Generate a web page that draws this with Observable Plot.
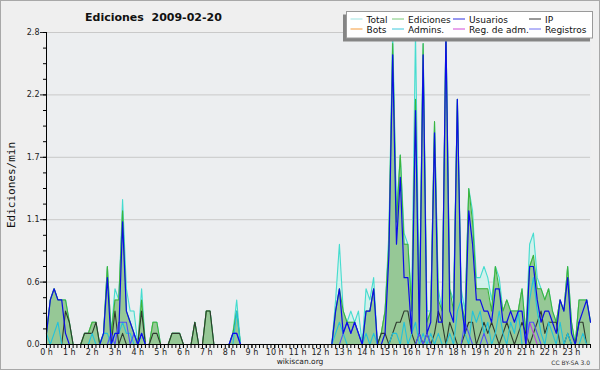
<!DOCTYPE html>
<html><head><meta charset="utf-8">
<script src="https://cdn.jsdelivr.net/npm/d3@7"></script>
<script src="https://cdn.jsdelivr.net/npm/@observablehq/plot@0.6"></script>
<style>
html,body{margin:0;padding:0;background:#efefef;}
#wrap{position:relative;width:600px;height:370px;overflow:hidden;background:#efefef;}
#chart{position:absolute;left:0;top:0;}
#ov{position:absolute;left:0;top:0;}
#border{position:absolute;left:0;top:0;width:600px;height:370px;box-sizing:border-box;border:1px solid #a8a8a8;pointer-events:none;}
</style></head><body>
<div id="wrap"><div id="chart"></div><svg id="ov" width="600" height="370"></svg><div id="border"></div></div>
<script>
// ---- data: edits per minute, 10-minute bins, 2009-02-20 ----
const title = "Ediciones  2009-02-20";
const yLabel = "Ediciones/min";
const yTicks = [0, 0.56, 1.12, 1.68, 2.24, 2.8];
const hourTicks = d3.range(0, 24);

const total = [
 0.1,0.4,0.5,0.4,0.4,0.4, 0.2,0,0,0,0.1,0.1, 0.2,0.2,0,0.1,0.7,0.1, 0.5,0.4,1.3,0.5,0.3,0.3,
 0,0.5,0,0,0.2,0.2, 0,0,0,0.1,0.1,0.1, 0,0,0,0.2,0,0, 0.3,0.3,0,0,0,0,
 0,0.1,0.4,0,0,0, 0,0,0,0,0,0, 0,0,0,0,0,0, 0,0,0,0,0,0,
 0,0,0,0,0.4,0.9, 0.3,0.2,0.3,0.2,0.3,0, 0.5,0.4,0.6,0,0.1,0.3, 1.0,2.8,1.2,1.7,1.0,0.9,
 0.4,2.8,0.3,2.7,0.3,0.3, 2.0,0.5,0.3,2.8,0.5,0.4, 2.2,0.5,0.3,1.4,1.2,0.6, 0.6,0.7,0.6,0.4,0.7,0.6,
 0.3,0.4,0.3,0.3,0.3,0.5, 0.1,0.9,1.0,0.6,0.5,0.4, 0.5,0.3,0.2,0.4,0.3,0.7, 0.2,0,0.4,0.4,0.4,0.2];
const ediciones = [
 0.1,0.4,0.5,0.4,0.4,0.4, 0.2,0,0,0,0.1,0.1, 0.2,0.2,0,0.1,0.7,0.1, 0.4,0.4,1.2,0.3,0.2,0.1,
 0,0.4,0,0,0.2,0.2, 0,0,0,0.1,0.1,0.1, 0,0,0,0.2,0,0, 0.3,0.3,0,0,0,0,
 0,0.1,0.3,0,0,0, 0,0,0,0,0,0, 0,0,0,0,0,0, 0,0,0,0,0,0,
 0,0,0,0,0.3,0.5, 0.3,0.2,0.2,0.2,0.1,0, 0.3,0.3,0.5,0,0.1,0.3, 0.9,2.7,1.1,1.7,0.9,0.9,
 0.3,2.2,0.2,2.7,0.2,0.3, 2.0,0.4,0.3,2.8,0.5,0.3, 2.2,0.4,0.2,1.4,1.1,0.5, 0.5,0.5,0.5,0.3,0.7,0.5,
 0.3,0.4,0.3,0.3,0.3,0.5, 0.1,0.7,0.8,0.5,0.5,0.4, 0.5,0.3,0.2,0.4,0.3,0.7, 0.2,0,0.4,0.4,0.4,0.2];
const usuarios = [
 0.1,0.4,0.5,0.4,0.4,0.1, 0,0,0,0,0,0, 0,0,0,0.1,0.6,0, 0.1,0.1,1.1,0.3,0.2,0.1,
 0,0.1,0,0,0,0, 0,0,0,0,0,0, 0,0,0,0,0,0, 0,0,0,0,0,0,
 0,0.1,0.1,0,0,0, 0,0,0,0,0,0, 0,0,0,0,0,0, 0,0,0,0,0,0,
 0,0,0,0,0.3,0.5, 0.1,0.2,0.1,0.2,0.1,0, 0.3,0.3,0.5,0,0,0.1, 0.8,2.6,0.9,1.5,0.6,0.6,
 0.1,2.1,0.1,2.6,0.1,0.2, 1.9,0.2,0.2,2.8,0.3,0.2, 2.2,0.4,0.1,1.2,0.9,0.4, 0.4,0.3,0.3,0.2,0.5,0.5,
 0.2,0.2,0.3,0.2,0.3,0.3, 0,0.7,0.7,0.4,0.2,0.3, 0.3,0.2,0.1,0.4,0.3,0.6, 0.1,0,0.2,0.3,0.4,0.2];
const ip = [
 0,0,0,0,0,0.3, 0.2,0,0,0,0.1,0.1, 0.1,0.2,0,0,0,0, 0.3,0,0.1,0,0,0,
 0,0.3,0,0,0.1,0.1, 0,0,0,0.1,0.1,0.1, 0,0,0,0.2,0,0, 0.3,0.3,0,0,0,0,
 0,0,0,0,0,0, 0,0,0,0,0,0, 0,0,0,0,0,0, 0,0,0,0,0,0,
 0,0,0,0,0,0, 0,0,0,0,0,0, 0,0,0,0,0.1,0.1, 0,0.1,0.2,0.2,0.3,0.3,
 0.1,0,0.1,0,0.1,0, 0.1,0.3,0.2,0,0.2,0.1, 0,0,0.1,0.2,0.2,0, 0.1,0.2,0.1,0.2,0.1,0,
 0.1,0.2,0.1,0,0.1,0.2, 0.1,0,0.1,0.2,0.3,0.1, 0.2,0.2,0.2,0,0,0.1, 0,0,0.2,0.2,0,0];
const bots = new Array(144).fill(0);
const admins = [
 0.1,0,0.1,0.2,0,0, 0,0,0,0,0,0, 0.1,0,0,0.1,0.1,0, 0.1,0.1,0.2,0.1,0.1,0,
 0,0.1,0,0,0,0, 0,0,0,0,0,0, 0,0,0,0,0,0, 0,0,0,0,0,0,
 0,0,0.3,0,0,0, 0,0,0,0,0,0, 0,0,0,0,0,0, 0,0,0,0,0,0,
 0,0,0,0,0.1,0.2, 0.1,0,0,0,0,0, 0.1,0,0.1,0,0,0, 0,0.1,0.1,0,0.2,0,
 0.1,0.2,0,0.1,0,0.1, 0,0.1,0,0,0.1,0, 0.3,0.4,0.1,0,0.3,0.2, 0.3,0.1,0.2,0,0.1,0.3,
 0.1,0,0.2,0.1,0.3,0, 0,0.4,0.6,0.3,0.1,0, 0.2,0.1,0,0.2,0,0.1, 0,0,0,0.1,0,0];
const regAdm = [
 0,0,0,0,0,0, 0,0,0,0,0,0, 0,0,0,0,0,0, 0,0,0,0,0,0,
 0,0,0,0,0,0, 0,0,0,0,0,0, 0,0,0,0,0,0, 0,0,0,0,0,0,
 0,0,0,0,0,0, 0,0,0,0,0,0, 0,0,0,0,0,0, 0,0,0,0,0,0,
 0,0,0,0,0,0, 0,0,0,0,0,0, 0,0,0,0,0,0, 0,0,0,0,0,0,
 0,0,0,0,0,0, 0,0,0,0,0,0, 0,0,0,0,0,0, 0,0,0,0,0,0,
 0,0,0,0,0,0, 0,0.2,0.1,0,0,0, 0,0,0,0,0,0, 0,0,0,0,0,0];
const registros = [
 0,0,0,0,0,0, 0,0,0,0,0,0, 0,0,0,0,0,0.1, 0,0.2,0.2,0.2,0,0.1,
 0,0.1,0,0,0,0, 0,0,0,0,0,0, 0,0,0,0,0,0, 0,0,0,0,0,0,
 0,0.1,0.1,0,0,0, 0,0,0,0,0,0, 0,0,0,0,0,0, 0,0,0,0,0,0,
 0,0,0,0,0,0, 0.1,0.2,0.1,0.2,0.1,0, 0,0,0,0,0,0, 0,0,0,0,0,0,
 0,0,0.1,0,0.1,0, 0,0,0,0,0,0, 0,0,0.2,0.1,0,0, 0,0.1,0,0,0,0,
 0,0,0,0,0,0, 0,0.2,0.2,0.1,0,0, 0,0,0,0,0,0, 0,0,0,0,0,0];

const seriesNames = ["Total","Ediciones","Usuarios","IP","Bots","Admins.","Reg. de adm.","Registros"];
const seriesColors = ["#9fe4e2","#78c878","#2f2fe0","#333333","#f59a3a","#3cc8dc","#d04ad8","#6e6ef2"];

// ---- build ----
const nb = total.length;
const xMax = (nb - 1) / 6;
const rows = d3.range(nb).map(i => ({
  x: i / 6, total: total[i], ediciones: ediciones[i], usuarios: usuarios[i], ip: ip[i],
  bots: bots[i], admins: admins[i], regAdm: regAdm[i], registros: registros[i]
}));
const W = 600, H = 370, mL = 46, mR = 10, mT = 32, mB = 26;
const hPerPx = xMax / (W - mL - mR);
const vPerPx = 2.8 / (H - mT - mB);
const minorX = d3.range(nb).map(i => i / 6);
const minorY = d3.range(0, 21).map(i => i * 0.14);

const chart = Plot.plot({
  width: W, height: H,
  marginLeft: mL, marginRight: mR, marginTop: mT, marginBottom: mB,
  style: {background: "transparent", fontFamily: "DejaVu Sans", fontSize: "8px", color: "#222", overflow: "visible"},
  x: {domain: [0, xMax], ticks: hourTicks, tickFormat: d => d + " h", tickSize: 4, tickPadding: 1, label: null},
  y: {domain: [0, 2.8], ticks: yTicks, tickFormat: d => d.toFixed(1), tickSize: 6, tickPadding: 1, label: null},
  marks: [
    Plot.frame({fill: "#eceef0", stroke: "none"}),
    Plot.ruleY(yTicks, {stroke: "#c9c9c9", strokeWidth: 1}),
    Plot.areaY(rows, {x: "x", y: "total", fill: "#d2f1ec"}),
    Plot.lineY(rows, {x: "x", y: "total", stroke: "#45dccf", strokeWidth: 1.1}),
    Plot.areaY(rows, {x: "x", y: "ediciones", fill: "#96c896"}),
    Plot.lineY(rows, {x: "x", y: "ediciones", stroke: "#3cb43c", strokeWidth: 1.1}),
    Plot.lineY(rows, {x: "x", y: "bots", stroke: seriesColors[4], strokeWidth: 1.1}),
    Plot.lineY(rows, {x: "x", y: "ip", stroke: "#2e3a2e", strokeWidth: 1.1}),
    Plot.lineY(rows, {x: "x", y: "admins", stroke: "#22c2dc", strokeWidth: 1.1}),
    Plot.lineY(rows, {x: "x", y: "regAdm", stroke: "#c040e0", strokeWidth: 1.1}),
    Plot.lineY(rows, {x: "x", y: "registros", stroke: "#5050f8", strokeWidth: 1.1}),
    Plot.lineY(rows, {x: "x", y: "usuarios", stroke: "#0c0ce8", strokeWidth: 1.2}),
    Plot.ruleY(minorY, {x1: () => -3 * hPerPx, x2: () => 0, stroke: "#000"}),
    Plot.ruleX(minorX, {y1: () => 0, y2: () => -4 * vPerPx, stroke: "#000"}),
    Plot.ruleX([0], {y1: 0, y2: 2.8, stroke: "#000"}),
    Plot.ruleY([0], {x1: 0, x2: xMax, stroke: "#000"})
  ]
});
document.getElementById("chart").appendChild(chart);

// ---- overlay texts & legend ----
const ov = d3.select("#ov");
ov.append("text").attr("x", 85).attr("y", 20.5)
  .attr("font-family", "DejaVu Sans").attr("font-weight", "bold").attr("font-size", 11)
  .attr("fill", "#111").attr("xml:space", "preserve").style("white-space", "pre").text(title);
ov.append("text").attr("transform", "translate(15,185) rotate(-90)").attr("text-anchor", "middle")
  .attr("font-family", "DejaVu Sans Mono").attr("font-size", 11).attr("fill", "#111").text(yLabel);
ov.append("text").attr("x", 300).attr("y", 364).attr("text-anchor", "middle")
  .attr("font-family", "DejaVu Sans").attr("font-size", 7.5).attr("fill", "#222").text("wikiscan.org");
ov.append("text").attr("x", 590).attr("y", 364.5).attr("text-anchor", "end")
  .attr("font-family", "DejaVu Sans").attr("font-size", 6).attr("fill", "#333").text("CC BY-SA 3.0");

ov.append("rect").attr("x", 343).attr("y", 14.5).attr("width", 247).attr("height", 27).attr("fill", "#858585");
ov.append("rect").attr("x", 346.5).attr("y", 11.5).attr("width", 246).attr("height", 26.5)
  .attr("fill", "#fff").attr("stroke", "#9a9a9a");
const colX = [366.5, 408, 469, 545];
const rowY = [22.5, 32.5];
seriesNames.forEach((name, i) => {
  const c = i % 4, r = Math.floor(i / 4);
  const tx = colX[c], ty = rowY[r];
  ov.append("line").attr("x1", tx - 16).attr("x2", tx - 4).attr("y1", ty - 3.5).attr("y2", ty - 3.5)
    .attr("stroke", seriesColors[i]).attr("stroke-width", 1);
  ov.append("text").attr("x", tx).attr("y", ty).attr("font-family", "DejaVu Sans")
    .attr("font-size", 9).attr("fill", "#111").text(name);
});
</script>
</body></html>
